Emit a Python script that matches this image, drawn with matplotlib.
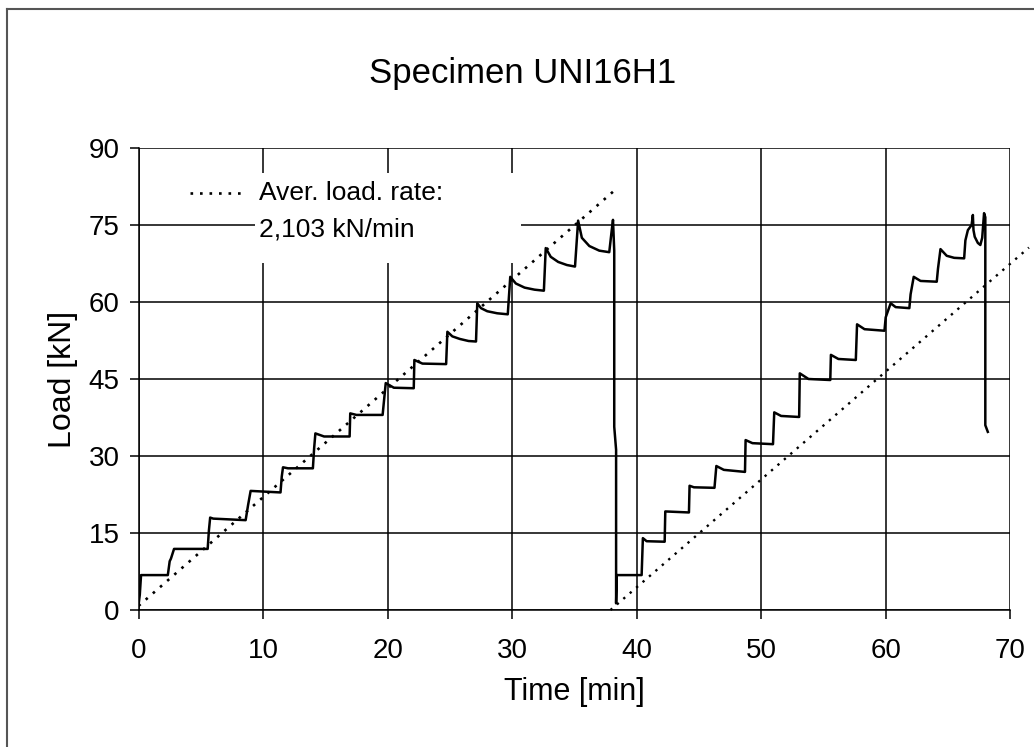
import matplotlib
matplotlib.use("Agg")
import matplotlib.pyplot as plt
from matplotlib.lines import Line2D
from matplotlib.patches import Rectangle

plt.rcParams["font.family"] = ["Liberation Sans", "DejaVu Sans"]

# ---------------------------------------------------------------------------
# Measured load history (time in min, load in kN), read off the chart
# ---------------------------------------------------------------------------
TIME = [
    0.0, 0.1, 0.2, 2.35, 2.5, 2.6, 2.85, 5.55, 5.65, 5.75, 6.0, 8.6, 8.8, 9.0,
    11.4, 11.5, 11.6, 12.0, 14.0, 14.1, 14.2, 14.9, 16.95, 17.0, 17.5, 19.6,
    19.7, 19.85, 20.5, 22.1, 22.15, 22.8, 24.7, 24.8, 25.2, 25.8, 26.5, 27.1,
    27.2, 27.5, 28.0, 28.8, 29.65, 29.85, 30.3, 31.0, 31.8, 32.55, 32.7, 33.1,
    33.7, 34.4, 35.05, 35.3, 35.6, 36.2, 37.0, 37.8, 38.0, 38.1, 38.2, 38.2,
    38.35, 38.35,
    38.4, 40.4, 40.5, 40.8, 42.25, 42.3, 44.2, 44.25, 44.6, 46.25, 46.4, 47.0,
    48.7, 48.75, 49.3, 50.95, 51.05, 51.6, 53.05, 53.1, 53.8, 55.55, 55.6,
    56.2, 57.6, 57.7, 58.3, 59.9, 60.0, 60.4, 60.8, 61.9, 62.0, 62.25, 62.8,
    64.1, 64.2, 64.4, 64.9, 65.5, 66.3, 66.4, 66.6, 66.9, 67.0, 67.05, 67.15,
    67.4, 67.6, 67.75, 67.9, 68.0, 68.0, 68.2,
]
LOAD = [
    1.0, 3.0, 6.8, 6.8, 9.5, 10.0, 11.9, 11.9, 15.5, 18.0, 17.8, 17.5, 20.5, 23.2,
    22.9, 26.0, 27.8, 27.6, 27.6, 31.5, 34.4, 33.8, 33.8, 38.3, 38.0, 38.0,
    40.5, 44.2, 43.3, 43.2, 48.7, 48.0, 47.9, 54.2, 53.3, 52.8, 52.4, 52.3,
    59.75, 58.8, 58.2, 57.8, 57.6, 64.9, 63.6, 62.8, 62.4, 62.2, 70.5, 68.8,
    67.8, 67.2, 66.9, 75.85, 72.5, 70.9, 70.0, 69.7, 74.0, 76.0, 70.0, 35.7,
    31.2, 1.3,
    6.8, 6.8, 14.0, 13.4, 13.3, 19.2, 19.0, 24.2, 23.9, 23.8, 28.05, 27.3,
    26.9, 33.1, 32.5, 32.3, 38.5, 37.8, 37.6, 46.1, 45.0, 44.8, 49.7,
    48.9, 48.7, 55.65, 54.7, 54.4, 57.0, 59.75, 59.0, 58.8, 61.5, 64.9, 64.1,
    63.95, 66.5, 70.3, 69.0, 68.6, 68.5, 72.0, 74.0, 75.0, 76.95, 74.0, 72.7,
    71.5, 71.1, 72.5, 77.3, 76.5, 36.0, 34.7,
]

# Average loading rate lines (2,103 kN/min)
RATE1_T = [0.0, 38.35]
RATE1_LOAD = [0.8, 82.0]
RATE2_T = [37.9, 71.5]
RATE2_LOAD = [0.0, 70.6]

X_TICKS = [0, 10, 20, 30, 40, 50, 60, 70]
Y_TICKS = [0, 15, 30, 45, 60, 75, 90]

TITLE = "Specimen UNI16H1"
X_LABEL = "Time [min]"
Y_LABEL = "Load [kN]"
LEGEND_LINE1 = "Aver. load. rate:"
LEGEND_LINE2 = "2,103 kN/min"

fig = plt.figure(figsize=(10.34, 7.47), dpi=100)
ax = fig.add_axes([0.134, 0.1834, 0.843, 0.6185])

dots = (0, (1, 2.6))
ax.plot(RATE1_T, RATE1_LOAD, color="black", linewidth=1.9, linestyle=dots, zorder=3)
ax.plot(RATE2_T, RATE2_LOAD, color="black", linewidth=1.7, linestyle=dots,
        clip_on=False, zorder=3)
ax.plot(TIME, LOAD, color="black", linewidth=1.8, zorder=4)

ax.set_xlim(0, 70)
ax.set_ylim(0, 90)
ax.set_xticks(X_TICKS)
ax.set_yticks(Y_TICKS)
ax.grid(True, color="black", linewidth=1.1)
ax.set_axisbelow(True)
for s in ax.spines.values():
    s.set_visible(False)
ax.spines["left"].set_visible(True)
ax.spines["bottom"].set_visible(True)
ax.spines["left"].set_linewidth(1.1)
ax.spines["bottom"].set_linewidth(1.1)
ax.tick_params(axis="both", direction="out", length=6.5, width=1.1, labelsize=20)
ax.tick_params(axis="x", pad=14)
ax.tick_params(axis="y", pad=7)

ax.set_xlabel(X_LABEL, fontsize=22, labelpad=9)
ax.set_ylabel(Y_LABEL, fontsize=23, labelpad=8)
fig.text(0.505, 0.902, TITLE, fontsize=25, ha="center", va="center")

# legend: white area over the grid, dotted sample and two text lines
ax.add_patch(Rectangle((0.1337, 0.751), 0.305, 0.195, transform=ax.transAxes,
                       facecolor="white", edgecolor="none", zorder=2.5))
ax.plot([0.059, 0.119], [0.9026, 0.9026], transform=ax.transAxes, color="black",
        linewidth=1.9, linestyle=dots, zorder=5)
ax.text(0.1385, 0.9026, LEGEND_LINE1, transform=ax.transAxes, fontsize=19,
        ha="left", va="center", zorder=5)
ax.text(0.1385, 0.8225, LEGEND_LINE2, transform=ax.transAxes, fontsize=19,
        ha="left", va="center", zorder=5)

# outer frame (left and top edge only)
fig.add_artist(Line2D([0.0068, 0.0068], [0.0, 0.9875], transform=fig.transFigure,
                      color="#555555", linewidth=1.5))
fig.add_artist(Line2D([0.0068, 1.0], [0.9875, 0.9875], transform=fig.transFigure,
                      color="#555555", linewidth=1.5))

fig.savefig("out.png", dpi=100)
